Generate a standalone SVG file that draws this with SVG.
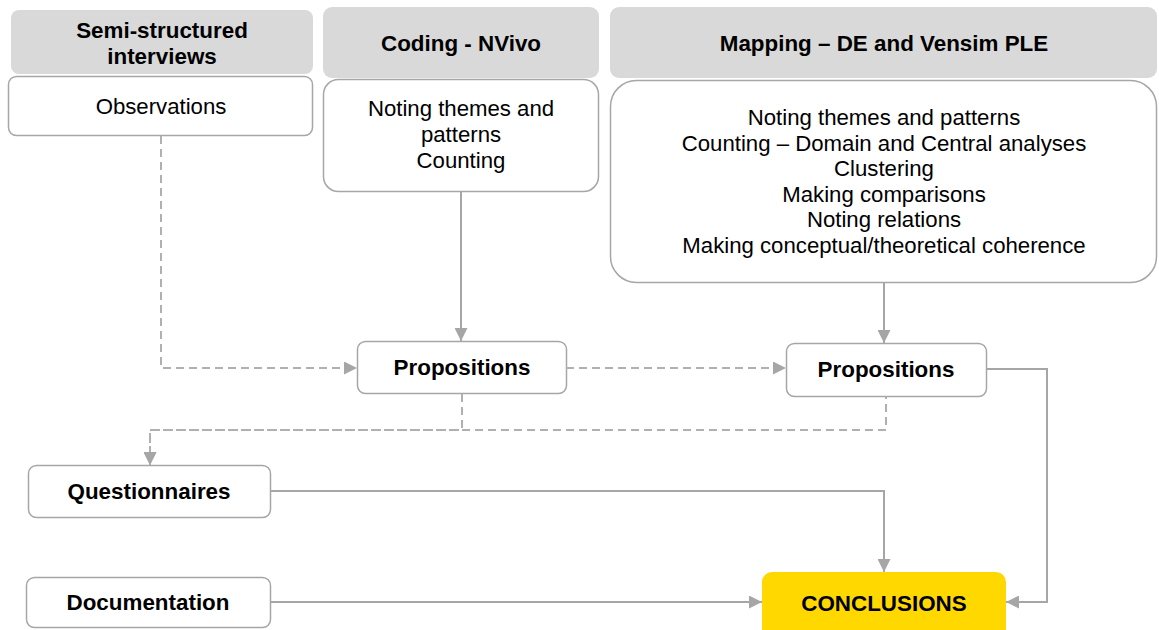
<svg xmlns="http://www.w3.org/2000/svg" width="1159" height="630" viewBox="0 0 1159 630">
  <style>
    .head { fill: #d9d9d9; }
    .box { fill: #ffffff; stroke: #a6a6a6; stroke-width: 1.5; }
    .final { fill: #ffd800; }
    .t { font-family: "Liberation Sans", Arial, sans-serif; font-size: 22.2px; fill: #000; text-anchor: middle; }
    .b { font-weight: bold; font-size: 22.4px; }
    .solid { fill: none; stroke: #a6a6a6; stroke-width: 2; }
    .dash { fill: none; stroke: #b0b0b0; stroke-width: 2; stroke-dasharray: 8 5; }
  </style>
  <defs>
    <marker id="arrow" viewBox="0 0 13 13" refX="13" refY="6.5" markerWidth="13" markerHeight="13" markerUnits="userSpaceOnUse" orient="auto">
      <path d="M0,0 L13,6.5 L0,13 Z" fill="#a6a6a6"/>
    </marker>
  </defs>

  <!-- column 1: interviews -->
  <g id="interviews">
    <rect class="head" x="11" y="10" width="302" height="64" rx="8"/>
    <text class="t b" x="162" y="38">Semi-structured</text>
    <text class="t b" x="162" y="64">interviews</text>
  </g>
  <g id="observations">
    <rect class="box" x="8.5" y="76.5" width="304" height="59" rx="8"/>
    <text class="t" x="161" y="114">Observations</text>
  </g>

  <!-- column 2: coding -->
  <g id="coding">
    <rect class="head" x="323" y="7" width="276" height="71" rx="9"/>
    <text class="t b" x="461" y="51">Coding - NVivo</text>
  </g>
  <g id="coding-tasks">
    <rect class="box" x="323.5" y="79.5" width="275" height="112" rx="15"/>
    <text class="t" x="461" y="116">Noting themes and</text>
    <text class="t" x="461" y="142">patterns</text>
    <text class="t" x="461" y="168">Counting</text>
  </g>

  <!-- column 3: mapping -->
  <g id="mapping">
    <rect class="head" x="610" y="7" width="547" height="71" rx="9"/>
    <text class="t b" x="884" y="51">Mapping – DE and Vensim PLE</text>
  </g>
  <g id="mapping-tasks">
    <rect class="box" x="610.5" y="80.5" width="546" height="202" rx="26"/>
    <text class="t" x="884" y="125">Noting themes and patterns</text>
    <text class="t" x="884" y="150.5">Counting – Domain and Central analyses</text>
    <text class="t" x="884" y="176">Clustering</text>
    <text class="t" x="884" y="201.5">Making comparisons</text>
    <text class="t" x="884" y="227">Noting relations</text>
    <text class="t" x="884" y="252.5">Making conceptual/theoretical coherence</text>
  </g>

  <!-- propositions -->
  <g id="propositions-coding">
    <rect class="box" x="357.5" y="341.5" width="209" height="52" rx="8"/>
    <text class="t b" x="462" y="375">Propositions</text>
  </g>
  <g id="propositions-mapping">
    <rect class="box" x="786.5" y="343.5" width="200" height="53" rx="8"/>
    <text class="t b" x="886" y="377">Propositions</text>
  </g>

  <!-- sources and result -->
  <g id="questionnaires">
    <rect class="box" x="28.5" y="465.5" width="242" height="52" rx="8"/>
    <text class="t b" x="149" y="499">Questionnaires</text>
  </g>
  <g id="documentation">
    <rect class="box" x="26.5" y="577.5" width="244" height="50" rx="8"/>
    <text class="t b" x="148" y="610">Documentation</text>
  </g>
  <g id="conclusions">
    <rect class="final" x="762" y="572" width="244" height="70" rx="10"/>
    <text class="t b" x="884" y="611">CONCLUSIONS</text>
  </g>

  <!-- connectors -->
  <g id="connectors">
    <path class="solid" d="M461,192 V341" marker-end="url(#arrow)"/>
    <path class="solid" d="M884,283 V343" marker-end="url(#arrow)"/>
    <path class="dash" d="M161,136 V368 H357" marker-end="url(#arrow)"/>
    <path class="dash" d="M566,368 H786" marker-end="url(#arrow)"/>
    <path class="dash" d="M462,394 V430 H150 V465" marker-end="url(#arrow)"/>
    <path class="dash" d="M886,397 V430 H150 V465" stroke-dashoffset="6" marker-end="url(#arrow)"/>
    <path class="solid" d="M987,369 H1047 V602 H1006" marker-end="url(#arrow)"/>
    <path class="solid" d="M271,491 H884 V572" marker-end="url(#arrow)"/>
    <path class="solid" d="M271,602 H762" marker-end="url(#arrow)"/>
  </g>
</svg>
